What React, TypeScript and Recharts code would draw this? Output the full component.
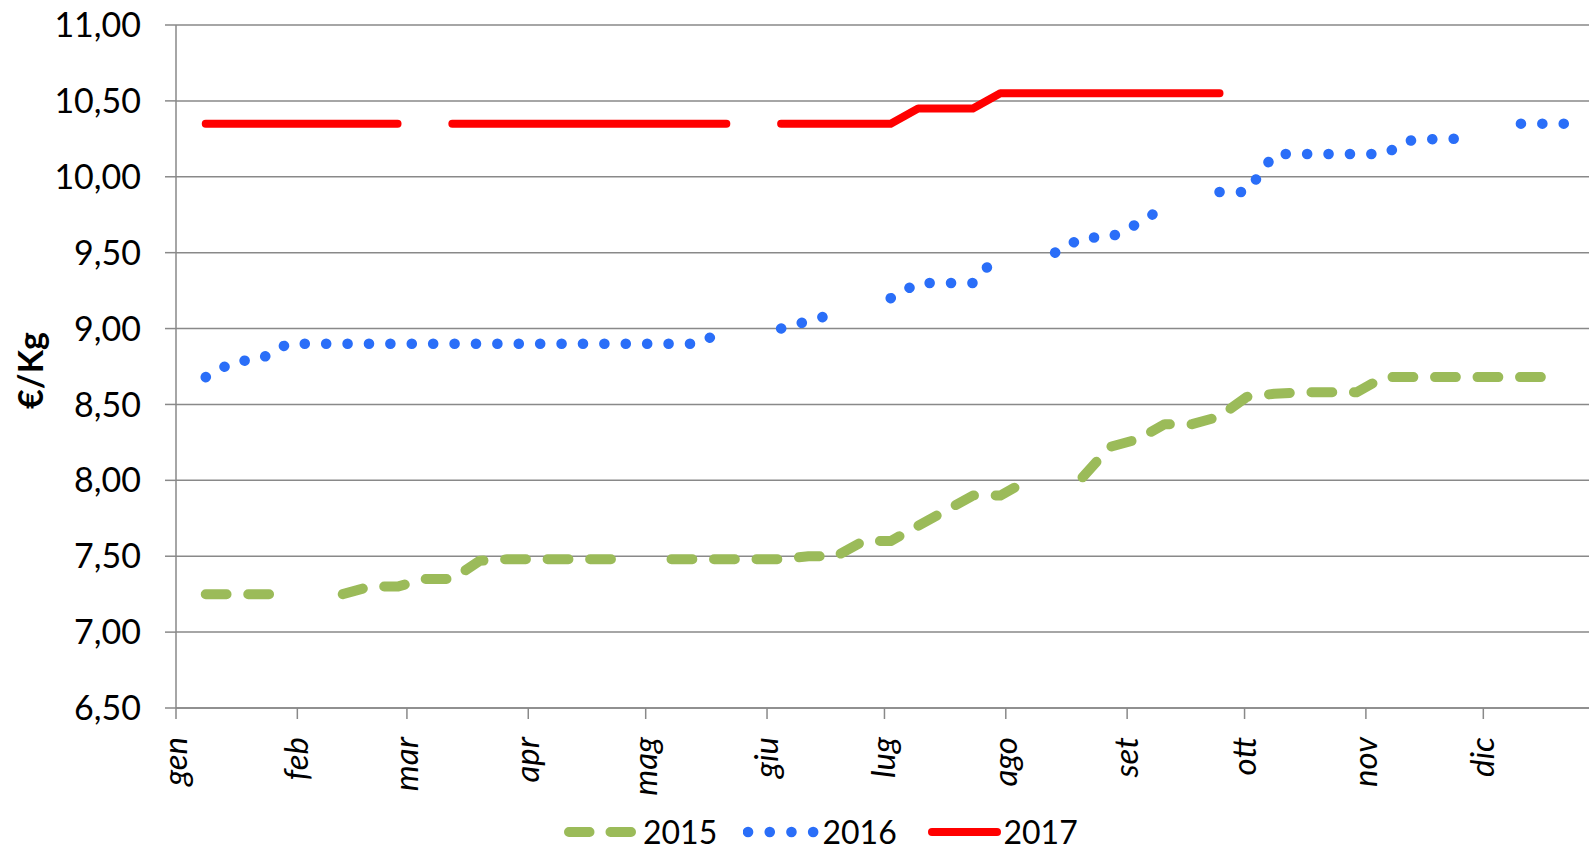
import React from "react";
import { LineChart, Line, XAxis, YAxis, CartesianGrid, Legend } from "recharts";

// giorno dell'anno di ogni rilevazione settimanale
const WEEK_DAYS = [
  7.6, 14.6, 21.6, 28.6, 35.6, 42.6, 49.6, 56.6, 63.6, 70.6, 77.6, 84.6, 91.6,
  98.6, 105.6, 112.6, 119.6, 126.6, 133.6, 140.6, 147.6, 154.6, 161.6, 168.6,
  175.6, 182.6, 189.6, 196.6, 203.6, 210.6, 217.6, 224.6, 231.6, 238.6, 245.6,
  252.6, 259.6, 266.6, 273.6, 280.6, 287.6, 294.6, 301.6, 308.6, 315.6, 322.6,
  329.6, 336.6, 343.6, 350.6, 357.6,
];

const MONTH_STARTS = [0, 31, 59, 90, 120, 151, 181, 212, 243, 273, 304, 334];
const MONTHS = ["gen", "feb", "mar", "apr", "mag", "giu", "lug", "ago", "set", "ott", "nov", "dic"];
const Y_TICKS = [6.5, 7, 7.5, 8, 8.5, 9, 9.5, 10, 10.5, 11];

const PRICES_2015 = [
  7.25, 7.25, 7.25, 7.25, null, 7.25, 7.3, 7.3, 7.35, 7.35, 7.47, 7.48, 7.48,
  7.48, 7.48, 7.48, null, 7.48, 7.48, 7.48, 7.48, 7.48, 7.5, 7.5, 7.6, 7.6,
  7.7, 7.8, 7.9, 7.9, 8.0, null, 8.02, 8.22, 8.27, 8.37, 8.37, 8.42, 8.55,
  8.57, 8.58, 8.58, 8.58, 8.68, 8.68, 8.68, 8.68, 8.68, 8.68, 8.68, null,
];

const PRICES_2016 = [
  8.68, 8.78, 8.8, 8.9, 8.9, 8.9, 8.9, 8.9, 8.9, 8.9, 8.9, 8.9, 8.9, 8.9, 8.9,
  8.9, 8.9, 8.9, 8.9, 9.0, null, 9.0, 9.05, 9.1, null, 9.2, 9.3, 9.3, 9.3, 9.5,
  null, 9.5, 9.6, 9.6, 9.69, 9.8, null, 9.9, 9.9, 10.15, 10.15, 10.15, 10.15,
  10.15, 10.24, 10.25, 10.25, null, 10.35, 10.35, 10.35,
];

const PRICES_2017 = [
  10.35, 10.35, 10.35, 10.35, 10.35, 10.35, 10.35, 10.35, null, 10.35, 10.35,
  10.35, 10.35, 10.35, 10.35, 10.35, 10.35, 10.35, 10.35, 10.35, null, 10.35,
  10.35, 10.35, 10.35, 10.35, 10.45, 10.45, 10.45, 10.55, 10.55, 10.55, 10.55,
  10.55, 10.55, 10.55, 10.55, 10.55, null, null, null, null, null, null, null,
  null, null, null, null, null, null,
];

const data = WEEK_DAYS.map((day, i) => ({
  day,
  y2015: PRICES_2015[i],
  y2016: PRICES_2016[i],
  y2017: PRICES_2017[i],
}));

const FONT = "Lato, 'Open Sans', sans-serif";
const GRID = "#898989";
const GREEN = "#9BBB59";
const BLUE = "#2A6EF8";
const RED = "#FF0000";

const SERIES = [
  { key: "y2015", name: "2015", color: GREEN, width: 10, dash: "20.8 21.7", legendDash: "20.5 21", legendLen: 64 },
  { key: "y2016", name: "2016", color: BLUE, width: 10.5, dash: "0.1 21.3", legendDash: "0.1 21.6", legendLen: 67 },
  { key: "y2017", name: "2017", color: RED, width: 8, dash: undefined, legendDash: undefined, legendLen: 65 },
];

const fmt = (v: number) => v.toFixed(2).replace(".", ",");

const MonthTick = (props: any) => {
  const { x, y, payload } = props;
  const idx = MONTH_STARTS.indexOf(payload.value);
  return (
    <g transform={`translate(${x},${y})`}>
      <text
        transform="rotate(-90)"
        x={-18}
        y={11}
        textAnchor="end"
        fontStyle="italic"
        fontSize={33}
        fontFamily={FONT}
        fill="#000"
      >
        {MONTHS[idx]}
      </text>
    </g>
  );
};

const YTitle = (props: any) => {
  const vb = props.viewBox || { x: 0, y: 25, width: 176, height: 683 };
  const cx = vb.x + 29;
  const cy = vb.y + vb.height / 2 + 4;
  return (
    <text
      x={cx}
      y={cy}
      transform={`rotate(-90, ${cx}, ${cy})`}
      textAnchor="middle"
      dominantBaseline="central"
      fontWeight="bold"
      fontSize={34}
      fontFamily={FONT}
      fill="#000"
    >
      €/Kg
    </text>
  );
};

const renderLegend = () => {
  const iconLeft = [563.8, 743, 926.6];
  const textLeft = [643, 822.5, 1003.5];
  return (
    <div style={{ position: "relative", width: 1589, height: 28 }}>
      {SERIES.map((s, i) => (
        <React.Fragment key={s.key}>
          <svg
            width={80}
            height={28}
            style={{ position: "absolute", left: iconLeft[i], top: -2 }}
          >
            <line
              x1={5}
              y1={14}
              x2={5 + s.legendLen}
              y2={14}
              stroke={s.color}
              strokeWidth={s.width}
              strokeLinecap="round"
              strokeDasharray={s.legendDash}
            />
          </svg>
          <span
            style={{
              position: "absolute",
              left: textLeft[i],
              top: -2,
              lineHeight: "28px",
              fontSize: 32,
              fontFamily: FONT,
              color: "#000",
              whiteSpace: "nowrap",
            }}
          >
            {s.name}
          </span>
        </React.Fragment>
      ))}
    </div>
  );
};

export default function App() {
  return (
    <div style={{ position: "absolute", left: 0, top: 0, background: "#fff" }}>
      <LineChart
        width={1589}
        height={848}
        data={data}
        margin={{ top: 25, right: 0, left: 0, bottom: 0 }}
      >
        <CartesianGrid vertical={false} stroke={GRID} strokeWidth={1.5} />
        <XAxis
          dataKey="day"
          type="number"
          domain={[0, 361]}
          ticks={MONTH_STARTS}
          interval={0}
          height={112}
          tickSize={11}
          tickMargin={0}
          axisLine={{ stroke: GRID, strokeWidth: 1.5 }}
          tickLine={{ stroke: GRID, strokeWidth: 1.5 }}
          tick={<MonthTick />}
        />
        <YAxis
          type="number"
          domain={[6.5, 11]}
          ticks={Y_TICKS}
          interval={0}
          width={176}
          tickSize={11}
          tickMargin={24}
          tickFormatter={fmt}
          axisLine={{ stroke: GRID, strokeWidth: 1.5 }}
          tickLine={{ stroke: GRID, strokeWidth: 1.5 }}
          tick={{ fontSize: 34, fontFamily: FONT, fill: "#000" }}
          label={<YTitle />}
        />
        <Legend verticalAlign="bottom" content={renderLegend} wrapperStyle={{ left: 0, width: 1589 }} />
        {SERIES.map((s) => (
          <Line
            key={s.key}
            dataKey={s.key}
            name={s.name}
            type="linear"
            stroke={s.color}
            strokeWidth={s.width}
            strokeDasharray={s.dash}
            strokeLinecap="round"
            strokeLinejoin="round"
            dot={false}
            activeDot={false}
            connectNulls={false}
            isAnimationActive={false}
          />
        ))}
      </LineChart>
    </div>
  );
}
